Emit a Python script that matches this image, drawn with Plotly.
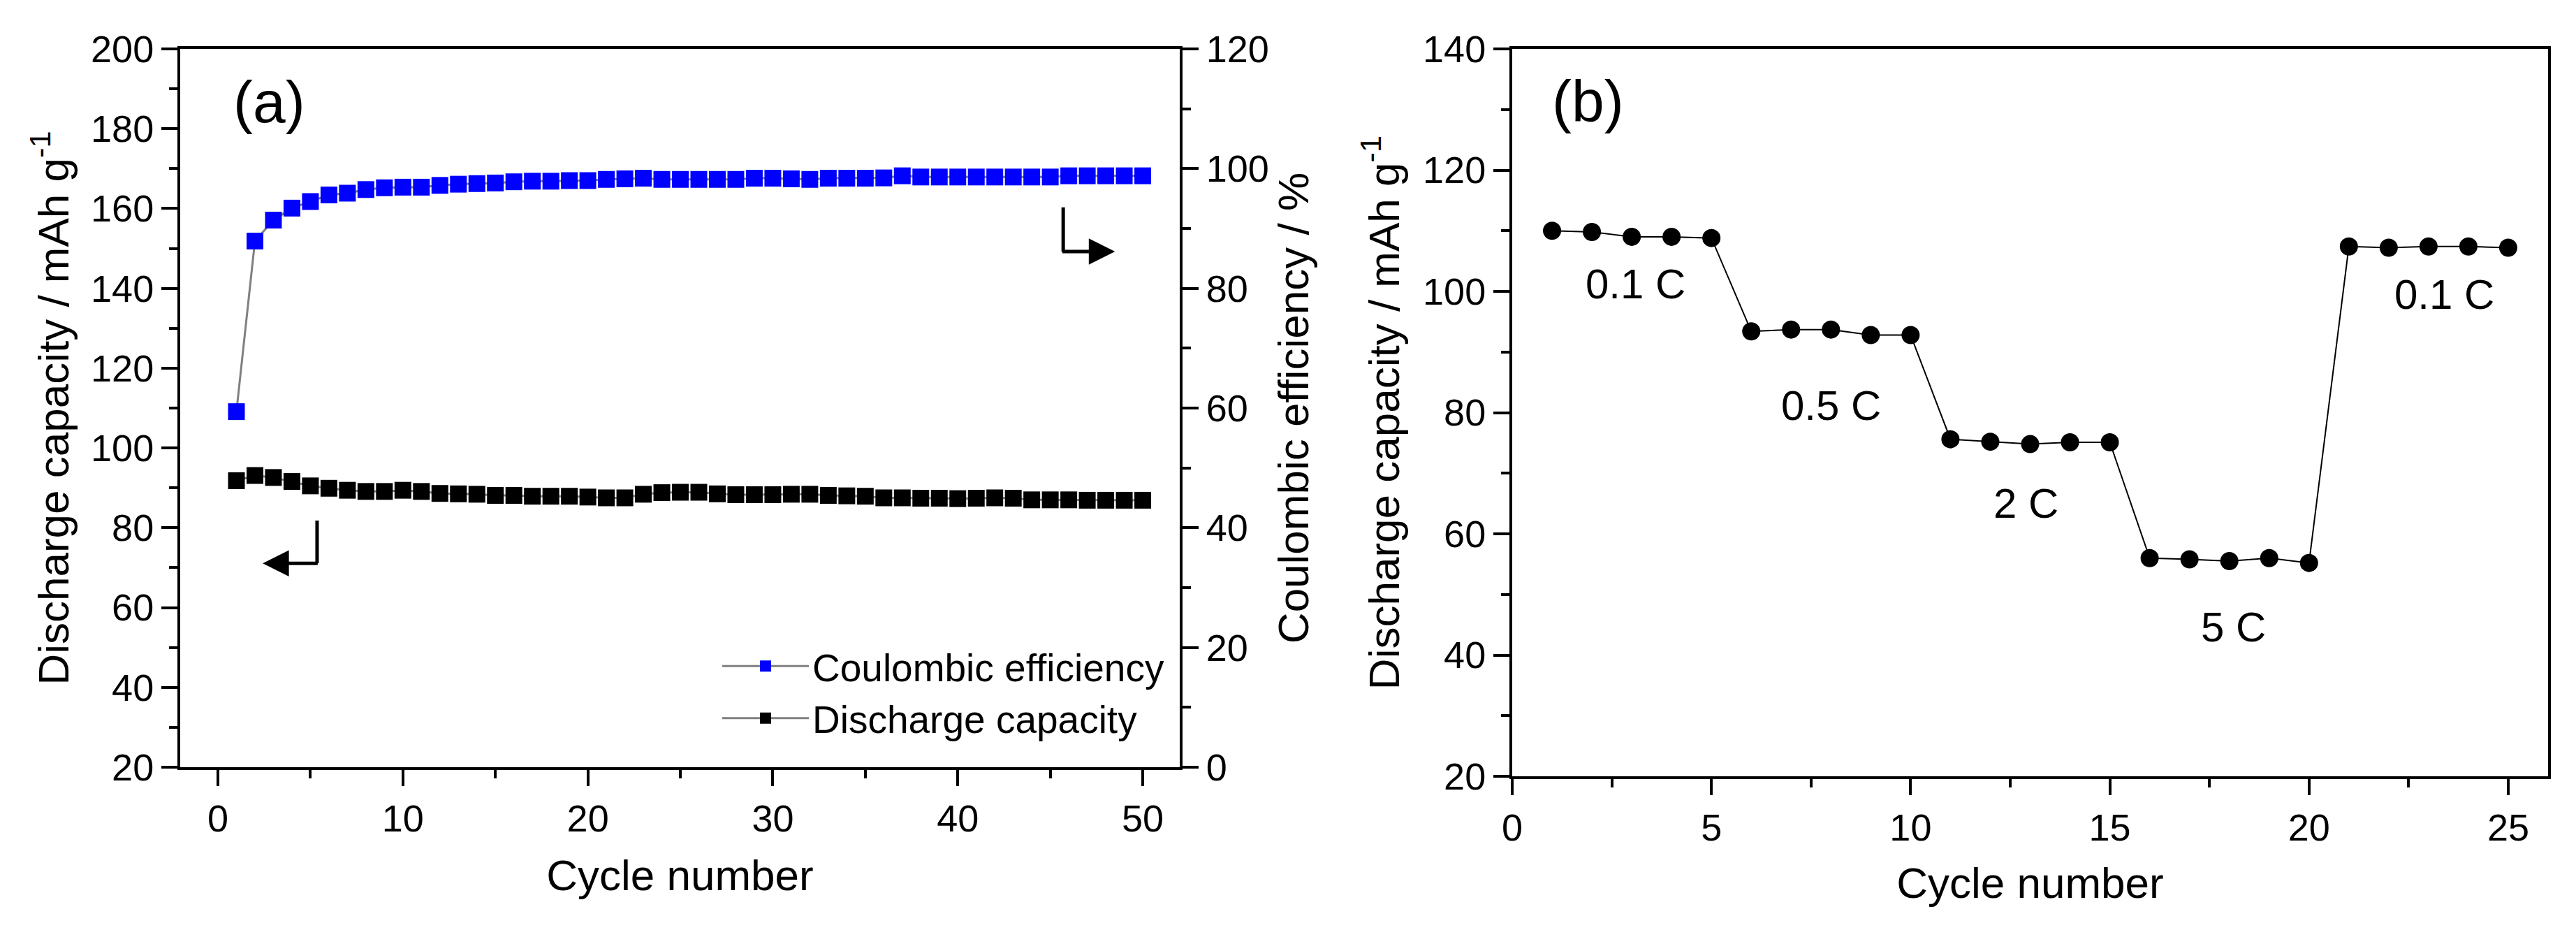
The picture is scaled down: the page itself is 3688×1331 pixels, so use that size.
import plotly.graph_objects as go

# panel (a): cycling at fixed rate
cycles_a = list(range(1, 51))
coulombic_eff = [59.4, 87.9, 91.4, 93.4, 94.5, 95.6, 95.9, 96.5, 96.8, 96.9,
                 96.9, 97.2, 97.4, 97.5, 97.6, 97.8, 97.9, 97.9, 98.0, 98.0,
                 98.2, 98.3, 98.4, 98.2, 98.2, 98.2, 98.2, 98.2, 98.4, 98.4,
                 98.3, 98.2, 98.4, 98.4, 98.4, 98.45, 98.8, 98.6, 98.6, 98.6,
                 98.6, 98.6, 98.6, 98.6, 98.6, 98.8, 98.8, 98.8, 98.8, 98.8]
discharge_a = [91.8, 93.1, 92.6, 91.6, 90.5, 89.9, 89.4, 89.1, 89.1, 89.4,
               89.1, 88.6, 88.5, 88.4, 88.1, 88.1, 87.9, 87.9, 87.9, 87.7,
               87.5, 87.5, 88.4, 88.8, 88.9, 88.9, 88.5, 88.3, 88.3, 88.3,
               88.4, 88.4, 88.1, 88.0, 87.9, 87.5, 87.5, 87.4, 87.4, 87.3,
               87.4, 87.5, 87.4, 87.0, 87.0, 87.0, 86.9, 86.9, 86.9, 86.9]

# panel (b): rate capability
cycles_b = list(range(1, 26))
discharge_b = [110.0, 109.8, 109.0, 109.0, 108.8,
               93.4, 93.7, 93.7, 92.8, 92.8,
               75.6, 75.2, 74.8, 75.1, 75.1,
               56.0, 55.8, 55.5, 56.0, 55.2,
               107.4, 107.2, 107.4, 107.4, 107.2]
rate_labels = ['0.1 C', '0.5 C', '2 C', '5 C', '0.1 C']
rate_label_x = [3.1, 8.0, 12.9, 18.1, 23.4]
rate_label_y = [101.2, 81.1, 65.0, 44.6, 99.5]

FONT = 'Liberation Sans, Arial, sans-serif'
NARROW = 'Liberation Sans Narrow, Arial Narrow, Liberation Sans, sans-serif'
W, H = 3688, 1331

fig = go.Figure()

fig.add_trace(go.Scatter(
    x=cycles_a, y=coulombic_eff, name='Coulombic efficiency',
    mode='lines+markers', yaxis='y2', xaxis='x',
    line=dict(color='#808080', width=3),
    marker=dict(symbol='square', size=24, color='#0000ff')))
fig.add_trace(go.Scatter(
    x=cycles_a, y=discharge_a, name='Discharge capacity',
    mode='lines+markers', yaxis='y', xaxis='x',
    line=dict(color='#808080', width=3),
    marker=dict(symbol='square', size=24, color='black')))
fig.add_trace(go.Scatter(
    x=cycles_b, y=discharge_b, name='rate', showlegend=False,
    mode='lines+markers', xaxis='x2', yaxis='y3',
    line=dict(color='black', width=2),
    marker=dict(symbol='circle', size=26, color='black')))

ax_common = dict(
    showline=True, linecolor='black', linewidth=4, mirror=True,
    ticks='outside', ticklen=23, tickwidth=4, tickcolor='black',
    showgrid=False, zeroline=False, automargin=False,
    tickfont=dict(family=FONT, size=54, color='black'),
    title_font=dict(family=FONT, size=62, color='black'),
)
minor = dict(ticklen=12, tickwidth=4, ticks='outside', tickcolor='black')

fig.update_layout(
    width=W, height=H,
    margin=dict(l=0, r=0, t=0, b=0),
    paper_bgcolor='white', plot_bgcolor='white',
    font=dict(family=FONT, color='black'),
    xaxis=dict(ax_common, domain=[250 / W, 1681 / W], range=[-2.04, 52.0],
               tick0=0, dtick=10, anchor='y',
               minor=dict(minor, dtick=5),
               title=dict(text='Cycle number', standoff=32)),
    yaxis=dict(ax_common, domain=[1 - 1090 / H, 1 - 62 / H], range=[20, 200],
               tick0=20, dtick=20, anchor='x',
               minor=dict(minor, dtick=10),
               title=dict(text='Discharge capacity / mAh g<sup>-1</sup>',
                          standoff=12)),
    yaxis2=dict(ax_common, overlaying='y', side='right', anchor='x',
                range=[0, 120], tick0=0, dtick=20, mirror=False,
                minor=dict(minor, dtick=10),
                title=dict(text='Coulombic efficiency / %', standoff=12)),
    xaxis2=dict(ax_common, domain=[2157 / W, 3640 / W], range=[0, 26],
                tick0=0, dtick=5, anchor='y3',
                tickfont=dict(family=NARROW, size=54, color='black'),
                minor=dict(minor, dtick=2.5),
                title=dict(text='Cycle number', standoff=30)),
    yaxis3=dict(ax_common, domain=[1 - 1103 / H, 1 - 62 / H], range=[20, 140],
                tick0=20, dtick=20, anchor='x2',
                tickfont=dict(family=NARROW, size=54, color='black'),
                minor=dict(minor, dtick=10),
                title=dict(text='Discharge capacity / mAh g<sup>-1</sup>',
                           standoff=14)),
    legend=dict(x=1664 / W, xanchor='right', y=1 - 1062 / H, yanchor='bottom',
                bgcolor='rgba(0,0,0,0)', itemwidth=124, tracegroupgap=0,
                font=dict(family=FONT, size=55, color='black')),
)

# panel labels
fig.add_annotation(x=2.76, y=186.7, xref='x', yref='y', text='(a)',
                   showarrow=False, font=dict(family=FONT, size=84))
fig.add_annotation(x=1.91, y=131.3, xref='x2', yref='y3', text='(b)',
                   showarrow=False, font=dict(family=FONT, size=84))

for lab, lx, ly in zip(rate_labels, rate_label_x, rate_label_y):
    fig.add_annotation(x=lx, y=ly, xref='x2', yref='y3', text=lab,
                       showarrow=False, font=dict(family=FONT, size=60))

# bent arrows pointing to the relevant axis
fig.add_shape(type='line', xref='x', yref='y', x0=5.36, x1=5.36,
              y0=81.8, y1=71.1, line=dict(color='black', width=5))
fig.add_annotation(x=2.42, y=71.1, ax=5.45, ay=71.1, xref='x', yref='y',
                   axref='x', ayref='y', text='', showarrow=True,
                   arrowhead=2, arrowsize=1.5, arrowwidth=5,
                   arrowcolor='black')
fig.add_shape(type='line', xref='x', yref='y', x0=45.7, x1=45.7,
              y0=160.3, y1=149.2, line=dict(color='black', width=5))
fig.add_annotation(x=48.5, y=149.2, ax=45.6, ay=149.2, xref='x', yref='y',
                   axref='x', ayref='y', text='', showarrow=True,
                   arrowhead=2, arrowsize=1.5, arrowwidth=5,
                   arrowcolor='black')

fig.write_html('out.html')
